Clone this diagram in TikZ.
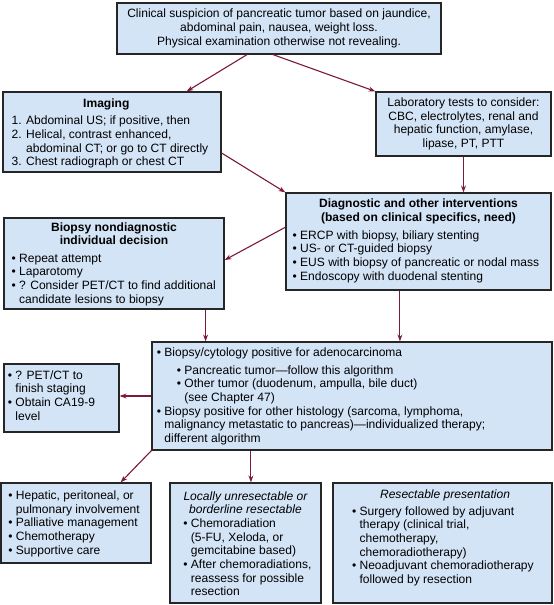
\documentclass[tikz,border=0pt]{standalone}
\usepackage{fontspec}
\setmainfont{Liberation Sans}
\usepackage{tikz}
\usetikzlibrary{arrows.meta, positioning}

\definecolor{boxblue}{RGB}{212,228,247}
\definecolor{linkred}{RGB}{125,24,62}
\newcommand{\boxfont}{\fontsize{12}{13.6}\selectfont}
\newcommand{\bult}{\textbullet\ }
\newcommand{\bulind}{\phantom{\textbullet\ }}

\begin{document}
\begin{tikzpicture}[every node/.style={font=\boxfont}, >={Stealth[length=2.4mm, width=1.7mm]},
  box/.style={draw=black!85, line width=1.2pt, fill=boxblue, inner sep=0pt},
  ttl/.style={anchor=north, align=center, inner sep=0pt, font=\boxfont\bfseries},
  lst/.style={anchor=north west, align=left, inner sep=0pt},
  link/.style={->, draw=linkred, line width=1.1pt}]
  \useasboundingbox (0,0) rectangle (19.355,-21.175);

  % Top: presenting suspicion
  \node[box, minimum width=11.34cm, minimum height=1.785cm, align=center] (suspicion) at (9.765,-0.998)
    {Clinical suspicion of pancreatic tumor based on jaundice,\\ abdominal pain, nausea, weight loss.\\ Physical examination otherwise not revealing.};

  % Second row: imaging (left), lab tests (right)
  \node[box, minimum width=7.63cm, minimum height=2.8cm] (imaging) at (3.92,-4.62) {};
  \node[ttl] (imagingttl) at ([xshift=-0.2cm, yshift=-0.254cm]imaging.north) {Imaging};
  \node[lst] (imaginglst) at ([xshift=0.315cm, yshift=-0.86cm]imaging.north west)
    {1. Abdominal US; if positive, then\\ 2. Helical, contrast enhanced,\\\phantom{2. }abdominal CT; or go to CT directly\\ 3. Chest radiograph or chest CT};
  \node[box, minimum width=6.125cm, minimum height=2.24cm, align=center] (labs) at (16.2225,-4.34)
    {Laboratory tests to consider:\\ CBC, electrolytes, renal and\\ hepatic function, amylase,\\ lipase, PT, PTT};

  % Third row: nondiagnostic biopsy (left), interventions (right)
  \node[box, minimum width=9.275cm, minimum height=3.395cm] (interv) at (14.6475,-8.4525) {};
  \node[ttl] (intervttl) at ([yshift=-0.23cm]interv.north) {Diagnostic and other interventions\\ (based on clinical specifics, need)};
  \node[lst] (intervlst) at ([xshift=0.245cm, yshift=-1.33cm]interv.north west)
    {\bult ERCP with biopsy, biliary stenting\\ \bult US- or CT-guided biopsy\\ \bult EUS with biopsy of pancreatic or nodal mass\\ \bult Endoscopy with duodenal stenting};
  \node[box, minimum width=7.7cm, minimum height=3.185cm] (nondiag) at (3.99,-9.2225) {};
  \node[ttl] (nondiagttl) at ([yshift=-0.17cm]nondiag.north) {Biopsy nondiagnostic\\ individual decision};
  \node[lst] (nondiaglst) at ([xshift=0.28cm, yshift=-1.27cm]nondiag.north west)
    {\bult Repeat attempt\\ \bult Laparotomy\\ \bult ? Consider PET/CT to find additional\\\bulind candidate lesions to biopsy};

  % Fourth row: cytology result and staging
  \node[box, minimum width=14cm, minimum height=3.78cm] (cytology) at (12.32,-13.86) {};
  \node[lst] (cytologylst) at ([xshift=0.185cm, yshift=-0.219cm]cytology.north west)
    {\bult Biopsy/cytology positive for adenocarcinoma\\[4pt]
     \hspace*{0.7cm}\bult Pancreatic tumor---follow this algorithm\\
     \hspace*{0.7cm}\bult Other tumor (duodenum, ampulla, bile duct)\\
     \hspace*{0.7cm}\bulind(see Chapter 47)\\
     \bult Biopsy positive for other histology (sarcoma, lymphoma,\\
     \bulind malignancy metastatic to pancreas)---individualized therapy;\\
     \bulind different algorithm};
  \node[box, minimum width=4.025cm, minimum height=2.38cm] (staging) at (2.1525,-13.93) {};
  \node[lst] (staginglst) at ([xshift=0.15cm, yshift=-0.244cm]staging.north west)
    {\bult ? PET/CT to\\\bulind finish staging\\ \bult Obtain CA19-9\\\bulind level};

  % Bottom row: by extent of disease
  \node[box, minimum width=5.25cm, minimum height=2.8cm] (palliative) at (2.66,-18.305) {};
  \node[lst] (palliativelst) at ([xshift=0.27cm, yshift=-0.289cm]palliative.north west)
    {\bult Hepatic, peritoneal, or\\\bulind pulmonary involvement\\ \bult Palliative management\\ \bult Chemotherapy\\ \bult Supportive care};
  \node[box, minimum width=5.285cm, minimum height=4.2cm] (unresect) at (8.5925,-19.005) {};
  \node[ttl, font=\boxfont\itshape] (unresectttl) at ([yshift=-0.314cm]unresect.north) {Locally unresectable or\\ borderline resectable};
  \node[lst] (unresectlst) at ([xshift=0.48cm, yshift=-1.269cm]unresect.north west)
    {\bult Chemoradiation\\\bulind (5-FU, Xeloda, or\\\bulind gemcitabine based)\\ \bult After chemoradiations,\\\bulind reassess for possible\\\bulind resection};
  \node[box, minimum width=7.665cm, minimum height=4.2cm] (resect) at (15.4875,-19.005) {};
  \node[ttl, font=\boxfont\itshape] (resectttl) at ([xshift=0.09cm, yshift=-0.254cm]resect.north) {Resectable presentation};
  \node[lst] (resectlst) at ([xshift=0.68cm, yshift=-0.839cm]resect.north west)
    {\bult Surgery followed by adjuvant\\\bulind therapy (clinical trial,\\\bulind chemotherapy,\\\bulind chemoradiotherapy)\\ \bult Neoadjuvant chemoradiotherapy\\\bulind followed by resection};

  % Connectors
  \draw[link] ([xshift=-1.12cm]suspicion.south) -- ([xshift=-1.225cm]imaging.north east);
  \draw[link] ([xshift=-0.21cm]suspicion.south) -- (labs.north west);
  \draw[link] ([yshift=-0.735cm]imaging.east) -- (interv.north west);
  \draw[link] (labs.south) -- (labs.south |- interv.north);
  \draw[link] ([yshift=0.5cm]interv.west) -- ([yshift=0.12cm]nondiag.east);
  \draw[link] ([xshift=-0.665cm]nondiag.south east) -- ([xshift=-0.665cm]nondiag.south east |- cytology.north);
  \draw[link] ([xshift=-0.65cm]interv.south) -- ([xshift=-0.65cm]interv.south |- cytology.north);
  \draw[link] (cytology.west) -- (cytology.west -| staging.east);
  \draw[link] (cytology.south west) -- ([xshift=-1.085cm]palliative.north east);
  \draw[link] ([xshift=0.19cm]unresect.north |- cytology.south) -- ([xshift=0.19cm]unresect.north);
\end{tikzpicture}
\end{document}
